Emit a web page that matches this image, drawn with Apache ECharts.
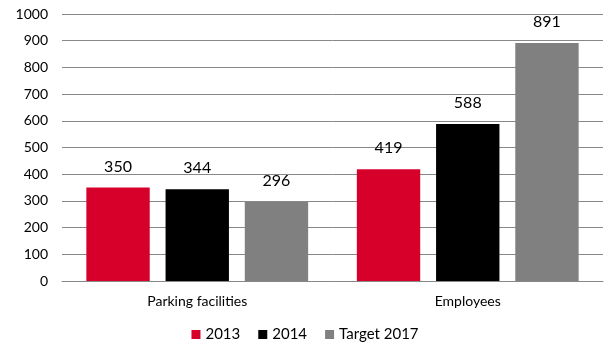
<!DOCTYPE html>
<html><head><meta charset="utf-8">
<script src="https://cdn.jsdelivr.net/npm/echarts@6/dist/echarts.min.js"></script>
<style>html,body{margin:0;padding:0;background:#fff}#c{width:610px;height:354px}</style>
</head><body><div id="c"></div>
<script>
const categories = ['Parking facilities', 'Employees'];
const seriesNames = ['2013', '2014', 'Target 2017'];
const values2013 = [350, 419];
const values2014 = [344, 588];
const valuesTarget = [296, 891];
const colors = ['#d7002b', '#000000', '#808080'];
const font = 'Lato';
const chart = echarts.init(document.getElementById('c'));
const data = [values2013, values2014, valuesTarget];
chart.setOption({
  animation: false,
  grid: {left: 62, right: 7, top: 14, bottom: 73, containLabel: false},
  legend: {
    bottom: 7, left: 'center', itemWidth: 9, itemHeight: 9, itemGap: 18,
    icon: 'rect',
    textStyle: {fontFamily: font, fontSize: 15, color: '#000'},
    data: seriesNames
  },
  xAxis: {
    type: 'category', data: categories,
    axisLine: {show: true, lineStyle: {color: '#888'}},
    axisTick: {show: false},
    axisLabel: {fontFamily: font, fontSize: 14, color: '#000', margin: 13}
  },
  yAxis: {
    type: 'value', min: 0, max: 1000, interval: 100,
    axisLine: {show: false}, axisTick: {show: false},
    splitLine: {lineStyle: {color: '#888', width: 1}},
    axisLabel: {fontFamily: font, fontSize: 14, color: '#000', margin: 14, formatter: v => String(v)}
  },
  series: seriesNames.map((n, i) => ({
    name: n, type: 'bar', data: data[i],
    barGap: '25%', barCategoryGap: '18%',
    itemStyle: {color: colors[i]},
    label: {show: true, position: 'top', distance: 13, fontFamily: font, fontSize: 16, color: '#000'}
  }))
});
</script></body></html>
